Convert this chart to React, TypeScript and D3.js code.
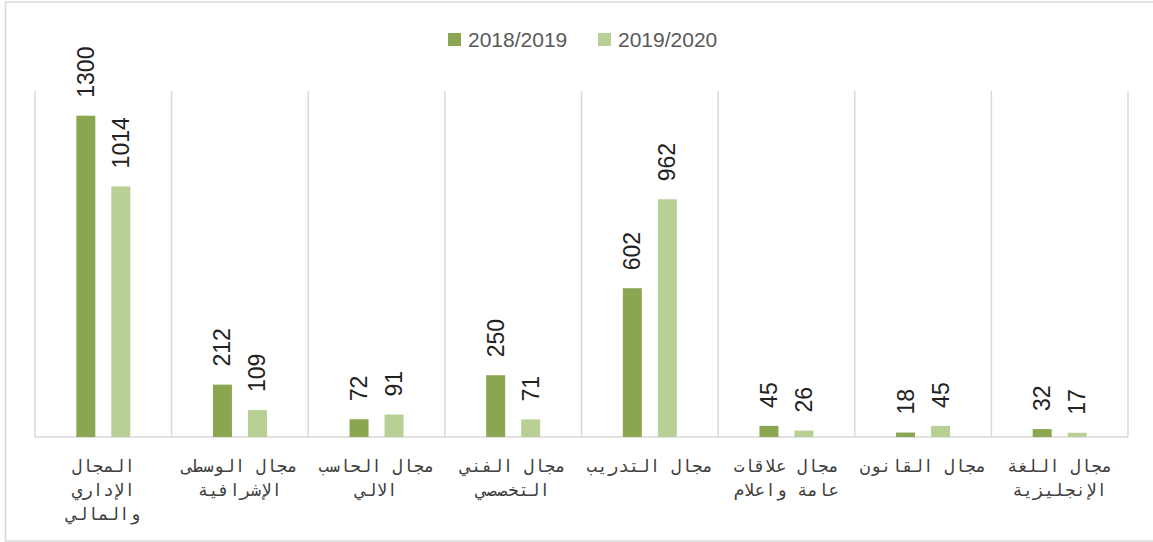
import React from "react";
import * as d3 from "d3";

const categories = [
  "المجال الإداري والمالي",
  "مجال الوسطى الإشرافية",
  "مجال الحاسب الالي",
  "مجال الفني التخصصي",
  "مجال التدريب",
  "مجال علاقات عامة واعلام",
  "مجال القانون",
  "مجال اللغة الإنجليزية",
];
const categoryLines = [
  ["المجال", "الإداري", "والمالي"],
  ["مجال الوسطى", "الإشرافية"],
  ["مجال الحاسب", "الالي"],
  ["مجال الفني", "التخصصي"],
  ["مجال التدريب"],
  ["مجال علاقات", "عامة واعلام"],
  ["مجال القانون"],
  ["مجال اللغة", "الإنجليزية"],
];
const seriesNames = ["2018/2019", "2019/2020"];
const values2018 = [1300, 212, 72, 250, 602, 45, 18, 32];
const values2019 = [1014, 109, 91, 71, 962, 26, 45, 17];
const colors = ["#8ba650", "#b8cf96"];

const W = 1153;
const H = 542;
const left = 35;
const right = 1128;
const top = 91;
const bottom = 437;

export default function App() {
  const x0 = d3.scaleBand<string>().domain(categories).range([left, right]).padding(0);
  const x1 = d3.scaleBand<string>().domain(seriesNames).range([-27, 27]).paddingInner(16 / 35);
  const y = d3.scaleLinear().domain([0, 1400]).range([bottom, top]);
  const series = [values2018, values2019];
  const boundaries = categories.map((c) => x0(c)!).concat([right]);

  return (
    <svg
      width={W}
      height={H}
      style={{ position: "absolute", left: 0, top: 0, background: "#fff" }}
    >
      <rect x={5.5} y={2} width={1165} height={539} fill="#fff" stroke="#d9d9d9" strokeWidth={1.5} />
      {boundaries.map((bx, i) => (
        <line key={"g" + i} x1={bx} x2={bx} y1={top} y2={bottom} stroke="#d9d9d9" strokeWidth={1.5} />
      ))}
      <line x1={left} x2={right} y1={bottom} y2={bottom} stroke="#d9d9d9" strokeWidth={1.5} />
      {categories.map((c, ci) => {
        const cx = x0(c)! + x0.bandwidth() / 2;
        return (
          <g key={c}>
            {series.map((vals, si) => {
              const bx = cx + x1(seriesNames[si])!;
              const by = y(vals[ci]);
              const bw = x1.bandwidth();
              return (
                <g key={si}>
                  <rect x={bx} y={by} width={bw} height={bottom - by} fill={colors[si]} />
                  <text
                    transform={`translate(${bx + bw / 2 + 8},${by - 18}) rotate(-90)`}
                    fontFamily="Liberation Sans, Arial, sans-serif"
                    fontSize={23}
                    fill="#222"
                  >
                    {vals[ci]}
                  </text>
                </g>
              );
            })}
            {categoryLines[ci].map((ln, li) => (
              <text
                key={li}
                x={cx}
                y={472 + li * 24}
                textAnchor="middle"
                direction="rtl"
                fontFamily="DejaVu Sans Mono, monospace"
                fontSize={17.5}
                fill="#404040"
              >
                {ln}
              </text>
            ))}
          </g>
        );
      })}
      {seriesNames.map((s, i) => {
        const lx = [448, 598][i];
        return (
          <g key={s}>
            <rect x={lx} y={33} width={13} height={13} fill={colors[i]} />
            <text x={lx + 20} y={47} fontFamily="Liberation Sans, Arial, sans-serif" fontSize={21} fill="#595959">
              {s}
            </text>
          </g>
        );
      })}
    </svg>
  );
}
